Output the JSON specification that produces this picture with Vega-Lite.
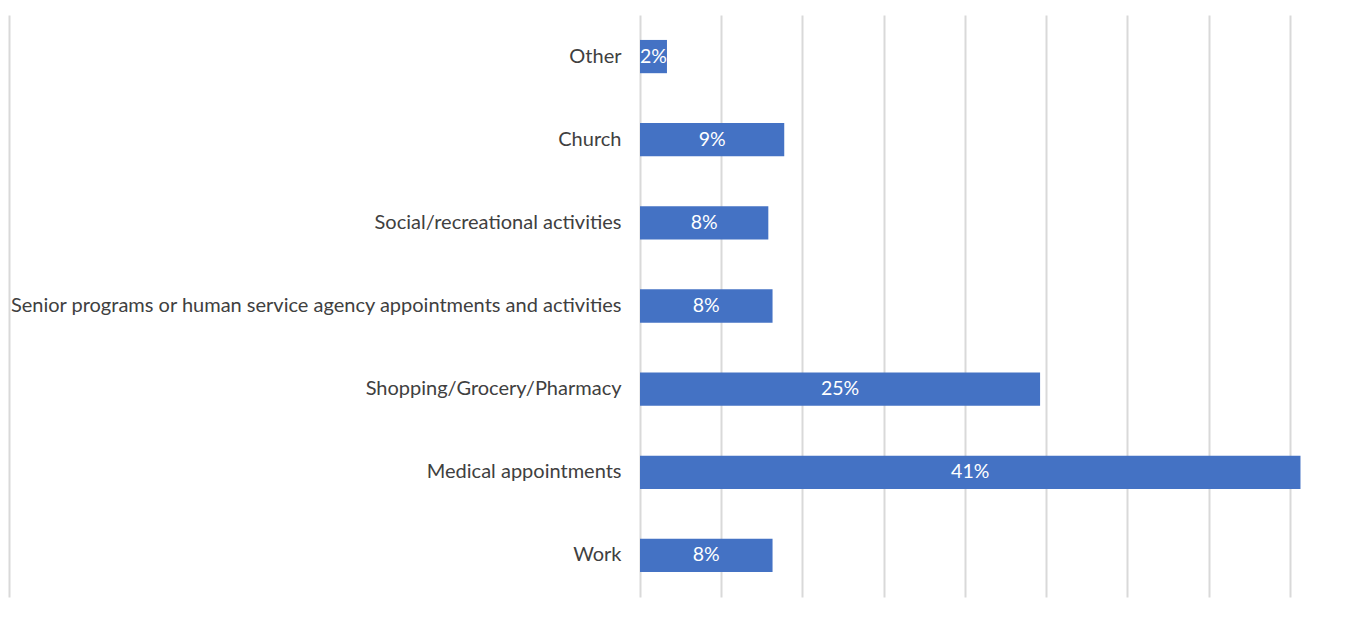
{
  "$schema": "https://vega.github.io/schema/vega-lite/v6.json",
  "autosize": {"type": "none"},
  "width": 666,
  "height": 582,
  "padding": {"left": 640, "top": 15, "right": 0, "bottom": 22},
  "background": "white",
  "config": {
    "view": {"stroke": null},
    "font": "Lato",
    "axis": {"labelFont": "Lato", "titleFont": "Lato"}
  },
  "data": {
    "values": [
      {"category": "Other", "value": 0.0166},
      {"category": "Church", "value": 0.0888},
      {"category": "Social/recreational activities", "value": 0.0790},
      {"category": "Senior programs or human service agency appointments and activities", "value": 0.0816},
      {"category": "Shopping/Grocery/Pharmacy", "value": 0.2463},
      {"category": "Medical appointments", "value": 0.4066},
      {"category": "Work", "value": 0.0816}
    ]
  },
  "layer": [
    {
      "mark": {"type": "bar", "color": "#4472C4"},
      "encoding": {
        "y": {
          "field": "category",
          "type": "nominal",
          "sort": null,
          "scale": {"paddingInner": 0.6, "paddingOuter": 0.3},
          "axis": {
            "title": null,
            "domain": false,
            "ticks": false,
            "labelPadding": 19,
            "labelFontSize": 20,
            "labelColor": "#404040",
            "labelLimit": 0
          }
        },
        "x": {
          "field": "value",
          "type": "quantitative",
          "scale": {"domain": [0, 0.41], "nice": false, "zero": true},
          "axis": {
            "title": null,
            "labels": false,
            "ticks": false,
            "domain": false,
            "grid": true,
            "values": [0, 0.05, 0.1, 0.15, 0.2, 0.25, 0.3, 0.35, 0.4],
            "gridColor": "#d9d9d9",
            "gridWidth": 2
          }
        }
      }
    },
    {
      "transform": [{"calculate": "datum.value / 2", "as": "mid"}],
      "mark": {"type": "text", "color": "white", "fontSize": 19.5, "align": "center", "baseline": "middle", "font": "Lato"},
      "encoding": {
        "y": {"field": "category", "type": "nominal", "sort": null, "axis": null},
        "x": {
          "field": "mid",
          "type": "quantitative",
          "axis": {
            "title": null,
            "labels": false,
            "ticks": false,
            "domain": false,
            "grid": true,
            "values": [0, 0.05, 0.1, 0.15, 0.2, 0.25, 0.3, 0.35, 0.4],
            "gridColor": "#d9d9d9",
            "gridWidth": 2
          }
        },
        "text": {"field": "value", "type": "quantitative", "format": ".0%"}
      }
    },
    {
      "mark": {"type": "tick", "opacity": 0},
      "encoding": {
        "y": {
          "field": "category",
          "type": "nominal",
          "sort": null,
          "axis": {
            "orient": "left",
            "offset": 631,
            "title": null,
            "labels": false,
            "ticks": false,
            "grid": false,
            "domain": true,
            "domainColor": "#d9d9d9",
            "domainWidth": 2
          }
        }
      }
    }
  ],
  "resolve": {"axis": {"y": "independent"}}
}
